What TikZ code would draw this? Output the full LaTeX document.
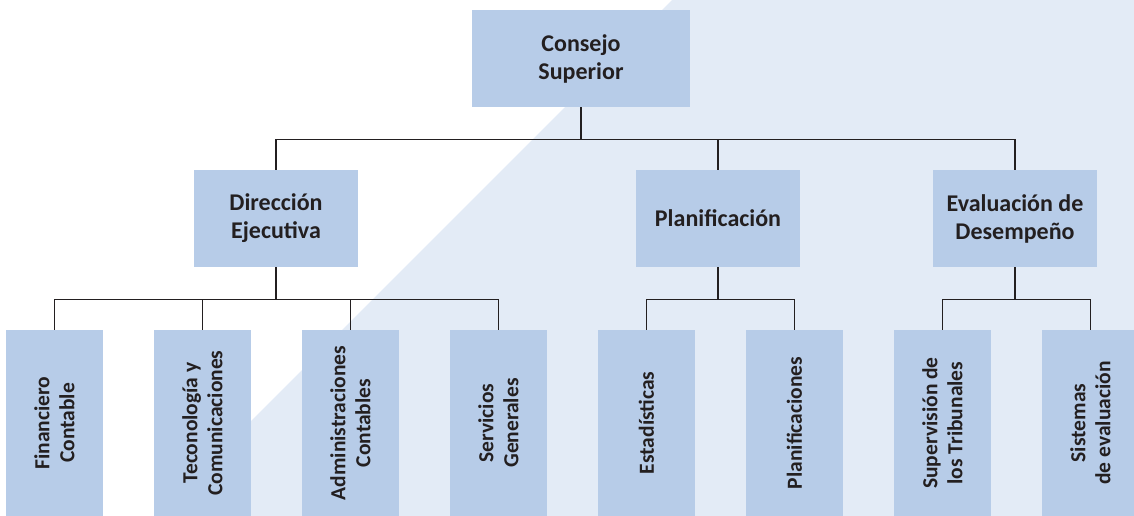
\documentclass[tikz,border=0pt]{standalone}
\usepackage{fontspec}
\setmainfont{Carlito}
\definecolor{boxblue}{RGB}{183,204,232}
\definecolor{bgblue}{RGB}{227,235,246}
\definecolor{ink}{RGB}{35,31,32}
\begin{document}
\begin{tikzpicture}[x=1pt,y=-1pt,
  box/.style={fill=boxblue, draw=none, align=center, text=ink, inner sep=0pt,
    font=\bfseries\fontsize{24}{28}\selectfont},
  hbox/.style={box, minimum width=164pt, minimum height=97pt},
  vbox/.style={box, rotate=90, minimum width=186pt, minimum height=97pt,
    font=\bfseries\fontsize{21.5}{25}\selectfont},
  conn/.style={draw=ink, line width=1.4pt}]
\useasboundingbox (0,0) rectangle (1134,516);
\clip (0,0) rectangle (1134,516);
\fill[bgblue] (672,0) -- (1134,0) -- (1134,516) -- (156,516) -- cycle;
% nodes
\node[hbox, minimum width=218pt] (top) at (581,58.5) {Consejo\\Superior};
\node[hbox] (dir) at (276,218.5) {Dirección\\Ejecutiva};
\node[hbox] (plan) at (718,218.5) {Planificación};
\node[hbox] (eval) at (1015,218.5) {Evaluación de\\Desempeño};
\node[vbox] (b1) at (54.5,423) {Financiero\\Contable};
\node[vbox] (b2) at (202.5,423) {Teconología y\\Comunicaciones};
\node[vbox] (b3) at (350.5,423) {Administraciones\\Contables};
\node[vbox] (b4) at (498.5,423) {Servicios\\Generales};
\node[vbox] (b5) at (646.5,423) {Estadísticas};
\node[vbox] (b6) at (794.5,423) {Planificaciones};
\node[vbox] (b7) at (942.5,423) {Supervisión de\\los Tribunales};
\node[vbox] (b8) at (1090.5,423) {Sistemas\\de evaluación};
% connectors
\draw[conn] (top.south) -- ++(0,32) coordinate (j0);
\draw[conn] (j0) -| (dir.north);
\draw[conn] (j0) -| (plan.north);
\draw[conn] (j0) -| (eval.north);
\draw[conn] (dir.south) -- ++(0,32) coordinate (j1);
\draw[conn] (j1) -| (b1.east);
\draw[conn] (j1) -| (b2.east);
\draw[conn] (j1) -| (b3.east);
\draw[conn] (j1) -| (b4.east);
\draw[conn] (plan.south) -- ++(0,32) coordinate (j2);
\draw[conn] (j2) -| (b5.east);
\draw[conn] (j2) -| (b6.east);
\draw[conn] (eval.south) -- ++(0,32) coordinate (j3);
\draw[conn] (j3) -| (b7.east);
\draw[conn] (j3) -| (b8.east);
\end{tikzpicture}
\end{document}
